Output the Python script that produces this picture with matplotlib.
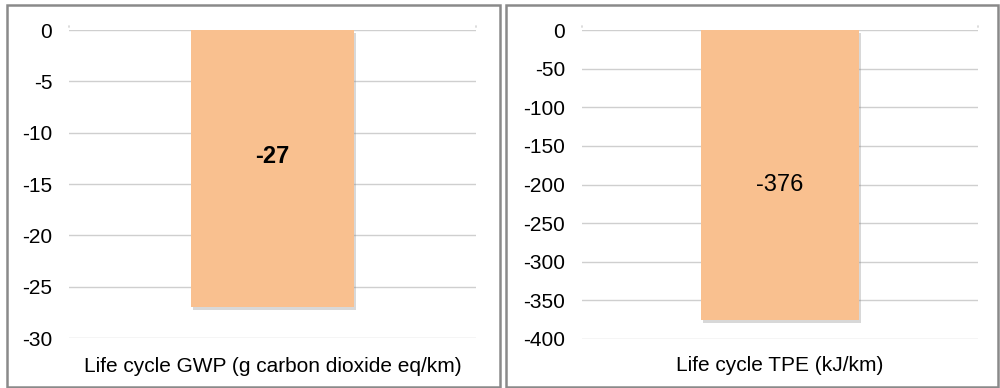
import matplotlib
matplotlib.use("Agg")
import matplotlib.pyplot as plt
import matplotlib.patches as patches
import matplotlib.patheffects as pe

plt.rcParams['font.family'] = ['Liberation Sans', 'DejaVu Sans']

gwp_label = "Life cycle GWP (g carbon dioxide eq/km)"
gwp_value = -27
gwp_ticks = [0, -5, -10, -15, -20, -25, -30]

tpe_label = "Life cycle TPE (kJ/km)"
tpe_value = -376
tpe_ticks = [0, -50, -100, -150, -200, -250, -300, -350, -400]

BAR_COLOR = '#F9C08F'
GRID_COLOR = '#CFCFCF'
W, H = 1000, 388


def px_axes(fig, x0, y0, x1, y1):
    # pixel box (top-left origin) -> figure fraction axes
    return fig.add_axes([x0 / W, (H - y1) / H, (x1 - x0) / W, (y1 - y0) / H])


def panel_border(fig, x0, y0, x1, y1):
    rect = patches.Rectangle((x0 / W, (H - y1) / H), (x1 - x0) / W, (y1 - y0) / H,
                             transform=fig.transFigure, fill=False,
                             edgecolor='#8A8A8A', linewidth=1.8)
    fig.patches.append(rect)


def draw_bar(ax, label, value, ticks, bold, label_frac, labelpad):
    ax.set_xlim(-0.5, 0.5)
    ax.set_ylim(min(ticks), 0)
    for t in ticks:
        ax.axhline(t, color=GRID_COLOR, linewidth=1.0, zorder=0)
    # little end ticks on the category axis
    for x in (-0.5, 0.5):
        ax.annotate('', xy=(x, 0), xytext=(0, 5), textcoords='offset points',
                    arrowprops=dict(arrowstyle='-', color=GRID_COLOR, lw=1.0))
    ax.bar([0], [value], width=0.4, color=BAR_COLOR, zorder=2,
           path_effects=[pe.SimplePatchShadow(offset=(1.5, -2), shadow_rgbFace='#808080', alpha=0.3),
                         pe.Normal()])
    ax.text(0, value * label_frac, str(value), ha='center', va='center', fontsize=17,
            fontweight='bold' if bold else 'normal', color='black', zorder=3)
    ax.set_yticks(ticks)
    ax.set_yticklabels([str(t) for t in ticks], fontsize=15)
    ax.tick_params(axis='y', length=0, pad=12)
    ax.set_xticks([])
    ax.set_xlabel(label, fontsize=15, labelpad=labelpad)
    for s in ax.spines.values():
        s.set_visible(False)
    ax.patch.set_alpha(0)


fig = plt.figure(figsize=(W / 100, H / 100), dpi=100)

panel_border(fig, 7, 5, 500, 387)
panel_border(fig, 506, 5, 998, 387)

ax1 = px_axes(fig, 69, 30, 476, 338)
draw_bar(ax1, gwp_label, gwp_value, gwp_ticks, True, 0.455, 14)

ax2 = px_axes(fig, 582, 30, 978, 339)
draw_bar(ax2, tpe_label, tpe_value, tpe_ticks, False, 0.535, 12)

fig.savefig('out.png', dpi=100)
